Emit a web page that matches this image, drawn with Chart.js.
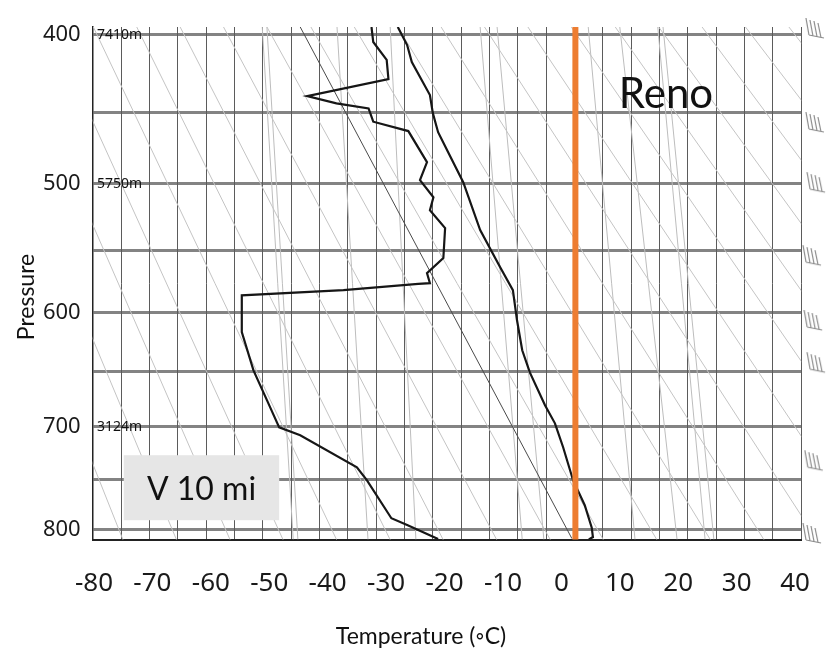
<!DOCTYPE html>
<html>
<head>
<meta charset="utf-8">
<script src="https://cdn.jsdelivr.net/npm/chart.js@4.4.0/dist/chart.umd.min.js"></script>
<style>
  html, body { margin: 0; padding: 0; background: #fff; }
  canvas { display: block; }
</style>
</head>
<body>
<canvas id="soundingChart" width="827" height="651"></canvas>
<script>
// Stuve diagram: the vertical axis runs with p^0.286
const K = 0.286;
const pTop = 395.2, pBottom = 810;
const pressureGrid = [400, 450, 500, 550, 600, 650, 700, 750, 800];
const tempTicks = [-80, -70, -60, -50, -40, -30, -20, -10, 0, 10, 20, 30, 40];
const tempMin = -80.22, tempMax = 41.05;
// the sounding's own isotherm grid (5 degree cells, offset from the tick labels)
const isoMin = -85, isoMax = 40;

// Reno sounding
const tempP = [395.2, 406.4, 417.2, 438.6, 450.7, 463.7, 477.5, 499.0, 534.6, 563.4, 581.8, 606.4, 632.0, 651.2, 680.5, 697.0, 719.3, 750.8, 775.4, 798.0, 807.5, 810.0];
const tempC = [-28.0, -26.4, -25.6, -22.5, -22.0, -21.1, -19.4, -16.8, -13.9, -10.5, -8.3, -7.6, -6.7, -5.4, -2.8, -1.1, 0.3, 2.0, 4.0, 5.2, 5.4, 4.7];

const dewP = [395.2, 404.5, 415.8, 428.2, 439.3, 444.1, 447.5, 456.5, 462.9, 484.6, 497.5, 510.0, 519.6, 533.1, 556.2, 568.2, 576.2, 576.8, 581.8, 586.1, 616.5, 649.4, 675.9, 700.7, 708.1, 738.3, 750.8, 788.4, 795.5, 809.5];
const dewC = [-32.5, -32.2, -29.9, -29.6, -43.5, -38.5, -33.0, -32.2, -26.2, -23.0, -24.2, -21.9, -22.5, -19.9, -20.2, -23.0, -22.5, -24.5, -37.3, -54.7, -54.7, -52.7, -50.4, -48.3, -44.7, -35.0, -33.3, -29.1, -26.3, -21.1];

// surface parcel line
const parcelP = [395.2, 809];
const parcelC = [-44.7, 1.8];

// orange marker line
const renoC = 2.4;

// dry adiabats: temperature where each crosses 390 hPa and 820 hPa
const adiabatTop = [-110.5, -103.1, -95.6, -88.2, -80.8, -73.4, -66.0, -58.6, -51.2, -43.7, -36.3, -28.9, -21.5, -14.1, -6.7, 0.7, 8.2, 15.6, 23.0, 30.4, 37.8];
const adiabatBottom = [-74.4, -65.2, -56.0, -46.9, -37.7, -28.5, -19.4, -10.2, -1.0, 8.1, 17.3, 26.5, 35.7, 44.8, 54.0, 63.2, 72.3, 81.5, 90.7, 99.8, 109.0];

// steep thin lines (mixing ratio): temperature at the top and the bottom of the plot
const mixTop = [-51.2, -50.4, -38.4, -29.3, -13.9, -11.0, 4.6, 10.0, 16.5, 17.4];
const mixBottom = [-45.9, -45.1, -33.1, -24.9, -6.7, -3.0, 12.6, 19.8, 24.6, 26.1];

// station heights written on the chart
const heightP = [400, 500, 700];
const heightLabels = ['7410m', '5750m', '3124m'];

// wind barbs on the right edge
const barbP = [395.8, 456.7, 499.0, 554.0, 606.4, 642.3, 731.6, 803.3];
const barbC = [43.4, 43.4, 43.6, 42.9, 43.1, 43.6, 43.2, 42.9];

const narrow = "'Noto Sans', sans-serif";
const sans = "Lato, 'Open Sans', sans-serif";

const pk = p => Math.pow(p, K);
const toPoints = (ts, ps) => ts.map((t, i) => ({ x: t, y: pk(ps[i]) }));

function makeBarb() {
    const c = document.createElement('canvas');
    c.width = 20; c.height = 26;
    const g = c.getContext('2d');
    g.strokeStyle = '#8a8a8a';
    g.lineWidth = 1.2;
    g.beginPath();
    g.moveTo(19, 23); g.lineTo(4, 20);   // staff
    g.moveTo(4, 20); g.lineTo(1, 3);
    g.moveTo(8, 21); g.lineTo(5, 5);
    g.moveTo(12, 21.5); g.lineTo(9, 6);
    g.moveTo(16, 22.5); g.lineTo(13, 8);
    g.stroke();
    return c;
}

function lineSet(points, color, width, order) {
    return {
        data: points, xAxisID: 'x', yAxisID: 'y', showLine: true,
        borderColor: color, borderWidth: width, pointRadius: 0, order: order
    };
}

const datasets = [];
datasets.push(lineSet([{ x: renoC, y: pk(380) }, { x: renoC, y: pk(830) }], '#ed7d31', 6, 0));
datasets.push(lineSet(toPoints(tempC, tempP), '#161616', 2.2, 1));
datasets.push(lineSet(toPoints(dewC, dewP), '#161616', 2.2, 1));
datasets.push(lineSet(toPoints(parcelC, parcelP), '#4a4a4a', 1, 2));
adiabatTop.forEach((t, i) => {
    datasets.push(lineSet([{ x: t, y: pk(390) }, { x: adiabatBottom[i], y: pk(820) }], '#c4c4c4', 1, 5));
});
mixTop.forEach((t, i) => {
    datasets.push(lineSet([{ x: t, y: pk(pTop) }, { x: mixBottom[i], y: pk(pBottom) }], '#bdbdbd', 1, 5));
});
// barbs sit just outside the plot, so the point radius is kept large enough to pass the area check
datasets.push({
    data: barbP.map((p, i) => ({ x: barbC[i], y: pk(p) })), xAxisID: 'x', yAxisID: 'y',
    showLine: false, pointStyle: makeBarb(), pointRadius: 20, clip: false, order: 3
});

// text written on the chart
const chartText = {
    id: 'chartText',
    afterDatasetsDraw(chart) {
        const { ctx, scales: { x, y } } = chart;
        ctx.save();
        ctx.fillStyle = '#111';
        ctx.font = '14px ' + narrow;
        ctx.textAlign = 'left';
        ctx.textBaseline = 'middle';
        heightP.forEach((p, i) => {
            ctx.fillText(heightLabels[i], x.getPixelForValue(-79.5), y.getPixelForValue(pk(p)));
        });

        ctx.font = '42px ' + sans;
        ctx.textAlign = 'center';
        ctx.textBaseline = 'alphabetic';
        ctx.fillText('Reno', x.getPixelForValue(17.9), y.getPixelForValue(pk(447)));

        const bx0 = x.getPixelForValue(-74.9), bx1 = x.getPixelForValue(-48.3);
        const by0 = y.getPixelForValue(pk(726.8)), by1 = y.getPixelForValue(pk(790.4));
        ctx.fillStyle = '#e6e6e6';
        ctx.fillRect(bx0, by0, bx1 - bx0, by1 - by0);
        ctx.fillStyle = '#111';
        ctx.font = '32px ' + sans;
        ctx.fillText('V 10 mi', (bx0 + bx1) / 2, by1 - 20);

        // axis titles
        ctx.font = '23px ' + sans;
        ctx.textBaseline = 'middle';
        ctx.fillText('Temperature (\u25E6C)', 421, 637);
        ctx.translate(27, 297);
        ctx.rotate(-Math.PI / 2);
        ctx.fillText('Pressure', 0, 0);
        ctx.restore();
    }
};

const noSidePadding = s => { s.paddingLeft = 0; s.paddingRight = 0; };

new Chart(document.getElementById('soundingChart').getContext('2d'), {
    type: 'scatter',
    data: { datasets: datasets },
    options: {
        responsive: false,
        animation: false,
        devicePixelRatio: 1,
        layout: { padding: { top: 27, right: 25.8, left: 0, bottom: 0 } },
        plugins: { legend: { display: false }, tooltip: { enabled: false } },
        scales: {
            x: {
                type: 'linear', position: 'bottom', min: tempMin, max: tempMax,
                afterBuildTicks: s => { s.ticks = tempTicks.map(v => ({ value: v })); },
                ticks: { font: { family: narrow, size: 26 }, color: '#1a1a1a', padding: 28, maxRotation: 0 },
                grid: { display: false, drawTicks: false },
                border: { display: true, color: '#222', width: 2 },
                afterFit: s => { s.height = 111.5; noSidePadding(s); }
            },
            xg: {
                type: 'linear', position: 'bottom', min: isoMin, max: isoMax,
                ticks: { display: false, stepSize: 5 },
                grid: { color: 'rgba(50,50,50,0.8)', lineWidth: 1, drawTicks: false },
                border: { display: false },
                afterFit: s => { s.height = 0; noSidePadding(s); }
            },
            y: {
                type: 'linear', reverse: true, min: pk(pTop), max: pk(pBottom),
                afterBuildTicks: s => { s.ticks = pressureGrid.map(p => ({ value: pk(p) })); },
                ticks: {
                    font: { family: narrow, size: 22 }, color: '#1a1a1a', padding: 12,
                    callback: v => {
                        const p = Math.round(Math.pow(v, 1 / K));
                        return p % 100 === 0 ? String(p) : '';
                    }
                },
                grid: { color: 'rgba(90,90,90,0.75)', lineWidth: 3, drawTicks: false },
                border: { display: true, color: '#222', width: 1.5 },
                afterFit: s => { s.width = 92.7; s.paddingTop = 0; s.paddingBottom = 0; }
            }
        }
    },
    plugins: [chartText]
});
</script>
</body>
</html>
